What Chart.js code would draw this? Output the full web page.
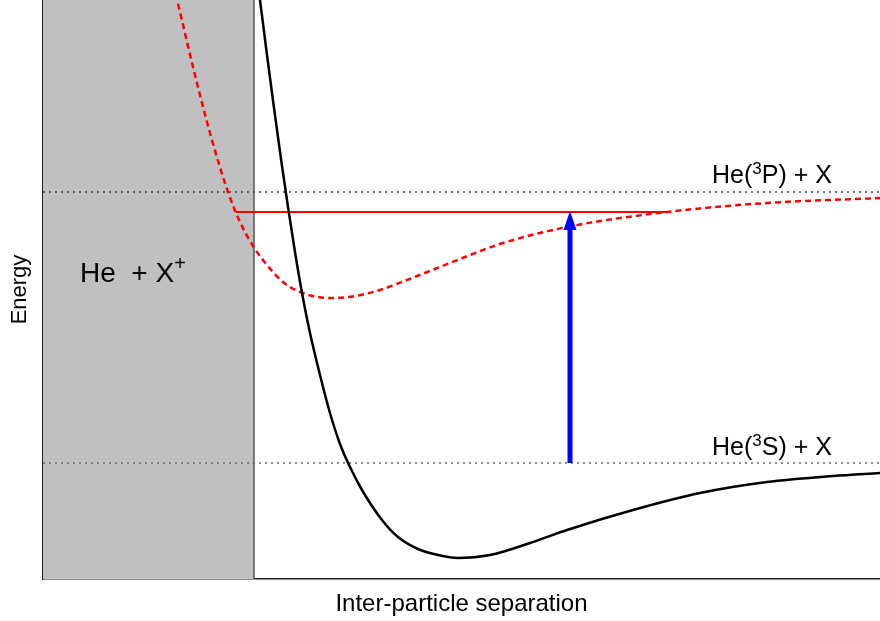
<!DOCTYPE html>
<html><head><meta charset="utf-8">
<script src="https://cdn.jsdelivr.net/npm/chart.js@4/dist/chart.umd.min.js"></script>
<style>html,body{margin:0;padding:0;background:#fff;}#wrap{width:880px;height:621px;}</style>
</head><body><div id="wrap"><canvas id="c" width="880" height="621"></canvas></div>
<script>
// ---- data (arbitrary units) ----
const separationGround = [213,217,224,231,238,245,252,259,267,277,287,297,307,319,339,355,375,395,415,447,487,524,590,657,724,790,837];
const energyGround     = [609,579,524,471,420,372,327,286,246,204,166,135,112,89,59,42,30,24,21,24,36,49,69,86,97,103,106];
const separationExcited = [127,134,150,167,185,197,210,224,240,257,275,292,312,337,364,407,457,524,624,724,837];
const energyExcited     = [604,579,512,446,387,357,333,314,297,287,282,281,283,289,299,316,335,352,367,376,381];
const asymptoteEnergies = [387, 116];          // He(3P)+X , He(3S)+X
const ionRegionEnd = 211;                      // He + X+ region boundary
const excitationLevel = 367;
const excitationRange = [193, 624];
const transitionSeparation = 527;
const transitionEnergies = [116, 367];
const xRange = [0, 837];
const yRange = [0, 579];

const FONT = "'Liberation Sans', Arial, Helvetica, sans-serif";
Chart.defaults.font.family = FONT;

const zip = (xs, ys) => xs.map((x, i) => ({x, y: ys[i]}));

const annotations = {
  id: 'annotations',
  afterDatasetsDraw(chart) {
    const {ctx, scales: {x, y}} = chart;
    ctx.save();
    // arrow head
    const tx = x.getPixelForValue(transitionSeparation);
    const ty = y.getPixelForValue(transitionEnergies[1]);
    ctx.fillStyle = '#0000ff';
    ctx.beginPath();
    ctx.moveTo(tx, ty - 1);
    ctx.lineTo(tx + 6.5, ty + 18);
    ctx.lineTo(tx - 6.5, ty + 18);
    ctx.closePath();
    ctx.fill();

    // rich labels
    ctx.fillStyle = '#000';
    ctx.textBaseline = 'alphabetic';
    ctx.textAlign = 'left';
    const rich = (parts, px, py) => {
      let cx = px;
      for (const p of parts) {
        ctx.font = p.size + 'px ' + FONT;
        ctx.fillText(p.t, cx, py - (p.rise || 0));
        cx += ctx.measureText(p.t).width;
      }
    };
    rich([{t:'He  + X', size:28}, {t:'+', size:20, rise:12}],
         x.getPixelForValue(37), y.getPixelForValue(297));
    rich([{t:'He(', size:25}, {t:'3', size:17, rise:9}, {t:'P) + X', size:25}],
         x.getPixelForValue(669), y.getPixelForValue(asymptoteEnergies[0] + 9));
    rich([{t:'He(', size:25}, {t:'3', size:17, rise:9}, {t:'S) + X', size:25}],
         x.getPixelForValue(669), y.getPixelForValue(asymptoteEnergies[1] + 8));
    ctx.restore();
  }
};

new Chart(document.getElementById('c'), {
  type: 'scatter',
  data: {
    datasets: [
      { // transition arrow shaft
        data: [{x: transitionSeparation, y: transitionEnergies[0]}, {x: transitionSeparation, y: transitionEnergies[1] - 12}],
        showLine: true, borderColor: '#0000ff', borderWidth: 5, pointRadius: 0, order: 0
      },
      { // ground state potential
        data: zip(separationGround, energyGround),
        showLine: true, borderColor: '#000000', borderWidth: 2.5, pointRadius: 0,
        cubicInterpolationMode: 'monotone', order: 1
      },
      { // excited state potential
        data: zip(separationExcited, energyExcited),
        showLine: true, borderColor: '#ff0000', borderWidth: 2.5, borderDash: [6, 4], pointRadius: 0,
        cubicInterpolationMode: 'monotone', order: 2
      },
      { // excitation level
        data: [{x: excitationRange[0], y: excitationLevel}, {x: excitationRange[1], y: excitationLevel}],
        showLine: true, borderColor: '#ff0000', borderWidth: 2, pointRadius: 0, order: 3
      },
      { // asymptote 3P
        data: [{x: xRange[0], y: asymptoteEnergies[0]}, {x: xRange[1], y: asymptoteEnergies[0]}],
        showLine: true, borderColor: '#444444', borderWidth: 1.3, borderDash: [2, 4], pointRadius: 0, order: 4
      },
      { // asymptote 3S
        data: [{x: xRange[0], y: asymptoteEnergies[1]}, {x: xRange[1], y: asymptoteEnergies[1]}],
        showLine: true, borderColor: '#666666', borderWidth: 1.3, borderDash: [2, 4], pointRadius: 0, order: 5
      },
      { // ion region edge
        data: [{x: ionRegionEnd, y: yRange[0]}, {x: ionRegionEnd, y: yRange[1]}],
        showLine: true, borderColor: '#555555', borderWidth: 1.5, pointRadius: 0, order: 8
      },
      { // ion region fill
        data: [{x: xRange[0], y: yRange[1]}, {x: ionRegionEnd, y: yRange[1]}],
        showLine: true, borderWidth: 0, borderColor: 'rgba(0,0,0,0)', pointRadius: 0,
        fill: 'origin', backgroundColor: '#c0c0c0', order: 9
      }
    ]
  },
  options: {
    responsive: false, animation: false, devicePixelRatio: 1,
    layout: {padding: 0},
    plugins: {legend: {display: false}, tooltip: {enabled: false}},
    scales: {
      x: {
        type: 'linear', min: xRange[0], max: xRange[1],
        grid: {display: false, drawTicks: false}, ticks: {display: false},
        border: {display: true, color: '#222', width: 1.5},
        title: {display: true, text: 'Inter-particle separation', color: '#000',
                font: {size: 24, family: FONT}, padding: {top: 10.6, bottom: 2.6}}
      },
      y: {
        type: 'linear', min: yRange[0], max: yRange[1],
        grid: {display: false, drawTicks: false}, ticks: {display: false},
        border: {display: true, color: '#222', width: 1.5},
        title: {display: true, text: 'Energy', color: '#000',
                font: {size: 22, family: FONT}, padding: {top: 6.8, bottom: 9.8}}
      }
    }
  },
  plugins: [annotations]
});
</script>
</body></html>
